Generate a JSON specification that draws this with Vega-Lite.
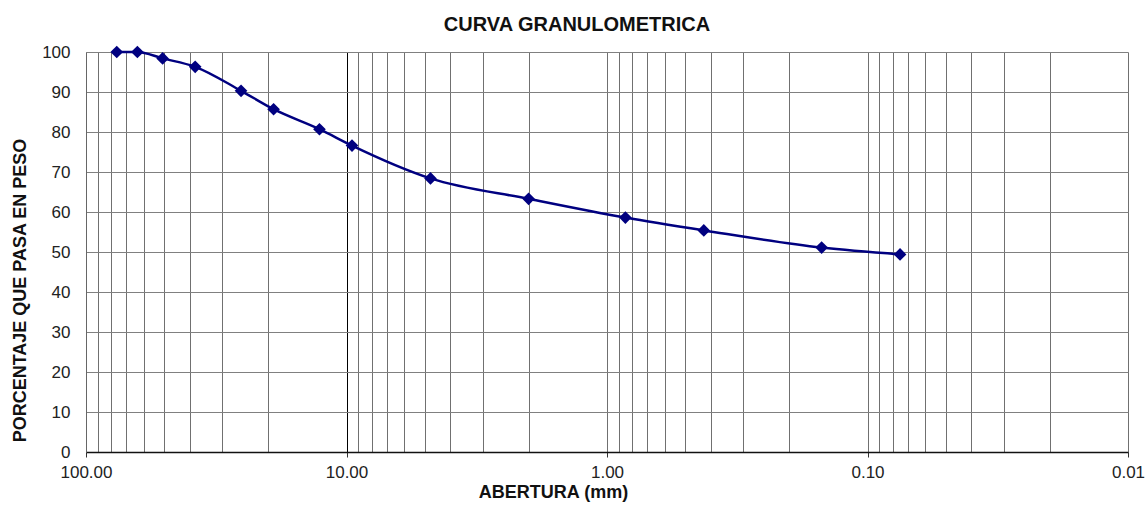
{
  "$schema": "https://vega.github.io/schema/vega-lite/v6.json",
  "autosize": "none",
  "width": 1042,
  "height": 400,
  "padding": {"left": 86, "top": 52, "right": 19, "bottom": 54},
  "background": "white",
  "config": {
    "font": "Liberation Sans",
    "view": {"stroke": null}
  },
  "title": {
    "text": "CURVA GRANULOMETRICA",
    "font": "Liberation Sans",
    "fontSize": 20,
    "fontWeight": "bold",
    "color": "#111",
    "anchor": "middle",
    "dx": -30,
    "offset": 8
  },
  "data": {
    "values": [
      {"abertura": 76.2, "pasa": 100},
      {"abertura": 63.5, "pasa": 100},
      {"abertura": 50.8, "pasa": 98.4},
      {"abertura": 38.1, "pasa": 96.3},
      {"abertura": 25.4, "pasa": 90.3},
      {"abertura": 19.05, "pasa": 85.7},
      {"abertura": 12.7, "pasa": 80.7},
      {"abertura": 9.525, "pasa": 76.6},
      {"abertura": 4.76, "pasa": 68.4},
      {"abertura": 2.0, "pasa": 63.3},
      {"abertura": 0.85, "pasa": 58.6},
      {"abertura": 0.425, "pasa": 55.4},
      {"abertura": 0.15, "pasa": 51.1},
      {"abertura": 0.075, "pasa": 49.4}
    ]
  },
  "encoding": {
    "x": {
      "field": "abertura",
      "type": "quantitative",
      "scale": {"type": "log", "domain": [0.01, 100], "reverse": true, "nice": false},
      "axis": {
        "title": "ABERTURA (mm)",
        "titleFont": "Liberation Sans",
        "titleFontSize": 18,
        "titleFontWeight": "bold",
        "titleColor": "#111",
        "titleX": 467,
        "titleY": 40,
        "titleBaseline": "middle",
        "titleAlign": "center",
        "values": [100, 90, 80, 70, 60, 50, 40, 30, 20, 10, 9, 8, 7, 6, 5, 4, 3, 2, 1, 0.9, 0.8, 0.7, 0.6, 0.5, 0.4, 0.3, 0.2, 0.1, 0.09, 0.08, 0.07, 0.06, 0.05, 0.04, 0.03, 0.02, 0.01],
        "labelExpr": "abs(log(datum.value)/LN10 - round(log(datum.value)/LN10)) < 0.001 ? format(datum.value, '.2f') : ''",
        "labelOverlap": false,
        "labelFlush": false,
        "labelBound": false,
        "labelFont": "Liberation Sans",
        "labelFontSize": 17,
        "labelColor": "#222",
        "labelPadding": 7,
        "tickSize": 5,
        "tickColor": "#333",
        "tickOpacity": {"condition": {"test": "abs(log(datum.value)/LN10 - round(log(datum.value)/LN10)) < 0.001", "value": 1}, "value": 0},
        "domainColor": "#111",
        "domainWidth": 1.5,
        "grid": true,
        "gridColor": {"condition": {"test": "abs(datum.value - 10) < 0.001", "value": "#000000"}, "value": "#707070"},
        "gridWidth": 1,
        "gridOpacity": 1
      }
    },
    "y": {
      "field": "pasa",
      "type": "quantitative",
      "scale": {"domain": [0, 100], "nice": false},
      "axis": {
        "title": "PORCENTAJE QUE PASA EN PESO",
        "titleFont": "Liberation Sans",
        "titleFontSize": 18,
        "titleFontWeight": "bold",
        "titleColor": "#111",
        "titleAngle": -90,
        "titleX": -66,
        "titleY": 238,
        "titleBaseline": "middle",
        "titleAlign": "center",
        "values": [0, 10, 20, 30, 40, 50, 60, 70, 80, 90, 100],
        "labelFont": "Liberation Sans",
        "labelFontSize": 17,
        "labelColor": "#222",
        "labelPadding": 16,
        "ticks": false,
        "domainColor": "#666",
        "grid": true,
        "gridColor": "#808080",
        "gridWidth": 1
      }
    }
  },
  "layer": [
    {
      "mark": {"type": "line", "interpolate": "monotone", "color": "#000080", "strokeWidth": 2.5}
    },
    {
      "mark": {"type": "point", "shape": "diamond", "filled": true, "color": "#000080", "size": 160, "opacity": 1}
    }
  ]
}
